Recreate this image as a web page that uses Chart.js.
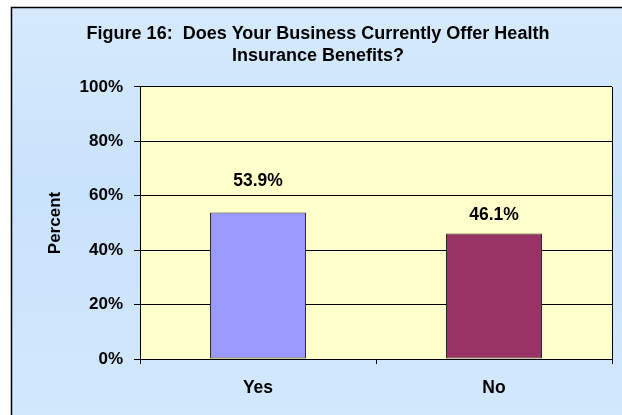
<!DOCTYPE html>
<html>
<head>
<meta charset="utf-8">
<script src="https://cdn.jsdelivr.net/npm/chart.js@4.4.1/dist/chart.umd.min.js"></script>
<style>
  html, body { margin: 0; padding: 0; background: #fff; }
  #wrap { width: 622px; height: 415px; }
</style>
</head>
<body>
<div id="wrap"><canvas id="chart" width="622" height="415"></canvas></div>
<script>
const categories = ['Yes', 'No'];
const percentValues = [53.9, 46.1];
const barColors = ['#9999ff', '#993366'];
const titleLines = ['Figure 16:  Does Your Business Currently Offer Health', 'Insurance Benefits?'];
const yTicks = [0, 20, 40, 60, 80, 100];

const FONT = "'Liberation Sans', Arial, sans-serif";

// outer panel and the yellow plot area
const backdrop = {
  id: 'backdrop',
  beforeDraw(chart) {
    const { ctx, width, height, chartArea } = chart;
    ctx.save();
    ctx.fillStyle = '#fff';
    ctx.fillRect(0, 0, width, height);
    const g = ctx.createLinearGradient(0, 7, 0, height);
    g.addColorStop(0, '#d6eafc');
    g.addColorStop(0.45, '#c9e2fb');
    g.addColorStop(1, '#d2e8fd');
    ctx.fillStyle = g;
    ctx.fillRect(11, 7, width - 11, height - 7);
    ctx.strokeStyle = '#000';
    ctx.lineWidth = 1.5;
    ctx.beginPath();
    ctx.moveTo(11.5, height);
    ctx.lineTo(11.5, 7.5);
    ctx.lineTo(width, 7.5);
    ctx.stroke();
    ctx.fillStyle = '#ffffcc';
    ctx.fillRect(chartArea.left, chartArea.top, chartArea.width, chartArea.height);
    ctx.restore();
  },
  afterDraw(chart) {
    const { ctx, chartArea } = chart;
    ctx.save();
    ctx.strokeStyle = '#000';
    ctx.lineWidth = 1;
    ctx.beginPath();
    ctx.moveTo(Math.round(chartArea.right) + 0.5, chartArea.top);
    ctx.lineTo(Math.round(chartArea.right) + 0.5, chartArea.bottom);
    ctx.stroke();
    ctx.restore();
  }
};

// value labels above each bar
const barLabels = {
  id: 'barLabels',
  afterDatasetsDraw(chart, args, opts) {
    const { ctx } = chart;
    const meta = chart.getDatasetMeta(0);
    ctx.save();
    ctx.font = 'bold 17.5px ' + FONT;
    ctx.fillStyle = '#000';
    ctx.textAlign = 'center';
    ctx.textBaseline = 'middle';
    meta.data.forEach((bar, i) => {
      const v = chart.data.datasets[0].data[i];
      ctx.fillText(v.toFixed(1) + '%', bar.x, bar.y - opts.offsets[i]);
    });
    ctx.restore();
  }
};

new Chart(document.getElementById('chart'), {
  type: 'bar',
  data: {
    labels: categories,
    datasets: [{
      data: percentValues,
      backgroundColor: barColors,
      borderColor: '#2a2a2a',
      borderWidth: 1,
      borderSkipped: false,
      barPercentage: 0.407,
      categoryPercentage: 1
    }]
  },
  plugins: [backdrop, barLabels],
  options: {
    responsive: false,
    animation: false,
    layout: { padding: { left: 24, right: 10, top: 0, bottom: 0 } },
    plugins: {
      legend: { display: false },
      tooltip: { enabled: false },
      title: {
        display: true,
        text: titleLines,
        color: '#000',
        font: { family: FONT, size: 18, weight: 'bold', lineHeight: 1.222 },
        padding: { top: 23, bottom: 20 }
      },
      barLabels: { offsets: [31, 18] }
    },
    scales: {
      x: {
        offset: true,
        afterFit(scale) { scale.height = 56; },
        grid: { display: true, drawOnChartArea: false, drawTicks: true, tickLength: 5, offset: true, color: '#000' },
        border: { display: true, color: '#000', width: 1 },
        ticks: { color: '#000', padding: 14, font: { family: FONT, size: 17.5, weight: 'bold' } }
      },
      y: {
        min: 0,
        max: 100,
        afterFit(scale) { scale.width = 116; },
        afterBuildTicks(scale) { scale.ticks = yTicks.map(v => ({ value: v })); },
        grid: { color: '#000', lineWidth: 1, tickLength: 6, drawTicks: true },
        border: { display: true, color: '#000', width: 1 },
        ticks: {
          color: '#000',
          padding: 11,
          font: { family: FONT, size: 17, weight: 'bold' },
          callback: v => v + '%'
        },
        title: {
          display: true,
          text: 'Percent',
          color: '#000',
          font: { family: FONT, size: 17, weight: 'bold', lineHeight: 1.2 },
          padding: { top: 21, bottom: 0 }
        }
      }
    }
  }
});
</script>
</body>
</html>
